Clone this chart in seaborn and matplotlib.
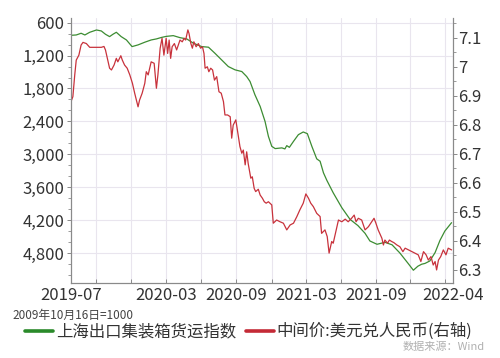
import matplotlib
matplotlib.use("Agg")
import matplotlib.pyplot as plt
import matplotlib.ticker as mticker
from matplotlib.lines import Line2D
import seaborn as sns
import pandas as pd

# ---------------- data ----------------
scfi_dates = [
    "2019-07-01", "2019-07-15", "2019-07-28", "2019-08-07", "2019-08-20", "2019-09-07",
    "2019-09-20", "2019-10-01", "2019-10-12", "2019-10-21", "2019-10-30", "2019-11-12",
    "2019-11-26", "2019-12-11", "2019-12-27", "2020-01-14", "2020-01-31", "2020-02-14",
    "2020-02-27", "2020-03-11", "2020-03-30", "2020-04-17", "2020-05-05", "2020-05-23",
    "2020-06-14", "2020-07-02", "2020-07-19", "2020-08-06", "2020-08-24", "2020-09-11",
    "2020-09-29", "2020-10-12", "2020-10-21", "2020-11-03", "2020-11-17", "2020-11-30",
    "2020-12-09", "2020-12-18", "2020-12-27", "2021-01-14", "2021-01-22", "2021-01-27",
    "2021-02-03", "2021-02-14", "2021-02-27", "2021-03-12", "2021-03-23", "2021-04-04",
    "2021-04-17", "2021-04-26", "2021-05-05", "2021-05-14", "2021-05-31", "2021-06-23",
    "2021-07-15", "2021-08-05", "2021-08-24", "2021-09-06", "2021-09-25", "2021-10-16",
    "2021-11-04", "2021-11-25", "2021-12-17", "2021-12-31", "2022-01-12", "2022-01-22",
    "2022-01-31", "2022-02-13", "2022-02-27", "2022-03-12", "2022-03-25", "2022-04-12",
]
scfi_values = [
    830, 824, 793, 824, 775, 733,
    751, 811, 854, 811, 775, 854,
    915, 1036, 1005, 956, 915, 896,
    870, 850, 836, 873, 896, 975,
    1036, 1047, 1156, 1278, 1400, 1460,
    1491, 1582, 1673, 1914, 2127, 2400,
    2673, 2855, 2896, 2883, 2902, 2842,
    2873, 2764, 2642, 2593, 2624, 2855,
    3083, 3127, 3338, 3475, 3702, 3974,
    4187, 4300, 4441, 4581, 4641, 4605,
    4650, 4800, 4990, 5114, 5041, 5005,
    4990, 4945, 4792, 4570, 4400, 4247,
]

cny_dates = [
    "2019-07-01", "2019-07-06", "2019-07-11", "2019-07-15", "2019-07-22", "2019-07-28",
    "2019-08-02", "2019-08-11", "2019-08-20", "2019-09-02", "2019-09-20", "2019-09-27",
    "2019-10-01", "2019-10-06", "2019-10-12", "2019-10-17", "2019-10-24", "2019-10-30",
    "2019-11-03", "2019-11-11", "2019-11-15", "2019-11-21", "2019-11-28", "2019-12-05",
    "2019-12-12", "2019-12-18", "2019-12-27", "2019-12-31", "2020-01-07", "2020-01-14",
    "2020-01-18", "2020-01-23", "2020-01-27", "2020-01-31", "2020-02-08", "2020-02-14",
    "2020-02-18", "2020-02-24", "2020-02-29", "2020-03-05", "2020-03-11", "2020-03-15",
    "2020-03-19", "2020-03-23", "2020-03-27", "2020-04-02", "2020-04-08", "2020-04-17",
    "2020-04-23", "2020-04-28", "2020-05-02", "2020-05-08", "2020-05-11", "2020-05-16",
    "2020-05-20", "2020-05-24", "2020-05-30", "2020-06-05", "2020-06-11", "2020-06-16",
    "2020-06-20", "2020-06-23", "2020-06-29", "2020-07-03", "2020-07-08", "2020-07-13",
    "2020-07-18", "2020-07-24", "2020-07-30", "2020-08-05", "2020-08-11", "2020-08-15",
    "2020-08-22", "2020-08-29", "2020-09-02", "2020-09-06", "2020-09-13", "2020-09-18",
    "2020-09-24", "2020-09-29", "2020-10-03", "2020-10-08", "2020-10-12", "2020-10-16",
    "2020-10-23", "2020-10-27", "2020-11-01", "2020-11-05", "2020-11-12", "2020-11-17",
    "2020-11-23", "2020-11-28", "2020-12-03", "2020-12-09", "2020-12-18", "2020-12-22",
    "2020-12-31", "2021-01-09", "2021-01-18", "2021-01-27", "2021-02-05", "2021-02-14",
    "2021-02-23", "2021-03-03", "2021-03-12", "2021-03-19", "2021-03-26", "2021-04-01",
    "2021-04-08", "2021-04-17", "2021-04-26", "2021-04-30", "2021-05-09", "2021-05-15",
    "2021-05-20", "2021-05-27", "2021-05-31", "2021-06-08", "2021-06-14", "2021-06-23",
    "2021-07-02", "2021-07-10", "2021-07-19", "2021-07-26", "2021-07-31", "2021-08-06",
    "2021-08-15", "2021-08-24", "2021-09-02", "2021-09-11", "2021-09-17", "2021-09-22",
    "2021-09-28", "2021-10-08", "2021-10-12", "2021-10-16", "2021-10-23", "2021-10-28",
    "2021-11-03", "2021-11-09", "2021-11-17", "2021-11-25", "2021-12-03", "2021-12-09",
    "2021-12-18", "2021-12-27", "2022-01-04", "2022-01-13", "2022-01-20", "2022-01-27",
    "2022-02-03", "2022-02-09", "2022-02-16", "2022-02-22", "2022-02-27", "2022-03-03",
    "2022-03-08", "2022-03-14", "2022-03-21", "2022-03-28", "2022-04-03", "2022-04-12",
]
cny_values = [
    6.880, 6.897, 6.972, 7.023, 7.040, 7.075,
    7.084, 7.080, 7.067, 7.067, 7.067, 7.070,
    7.058, 7.029, 6.995, 6.989, 7.006, 7.029,
    7.017, 7.038, 7.023, 7.006, 6.995, 6.972,
    6.943, 6.909, 6.862, 6.885, 6.909, 6.943,
    6.983, 6.972, 6.995, 7.017, 7.012, 6.926,
    6.972, 7.064, 7.098, 7.040, 7.098, 7.046,
    7.092, 7.029, 7.069, 7.080, 7.058, 7.092,
    7.086, 7.098, 7.092, 7.127, 7.115, 7.080,
    7.064, 7.086, 7.069, 7.080, 7.064, 7.069,
    7.046, 6.995, 7.000, 6.983, 6.995, 6.989,
    6.954, 6.966, 6.914, 6.909, 6.880, 6.834,
    6.834, 6.828, 6.754, 6.799, 6.817, 6.776,
    6.725, 6.702, 6.713, 6.662, 6.707, 6.667,
    6.616, 6.621, 6.581, 6.570, 6.578, 6.558,
    6.547, 6.535, 6.530, 6.535, 6.524, 6.461,
    6.472, 6.466, 6.461, 6.438, 6.455, 6.461,
    6.484, 6.507, 6.530, 6.562, 6.547, 6.530,
    6.518, 6.495, 6.484, 6.426, 6.438, 6.415,
    6.358, 6.398, 6.392, 6.438, 6.472, 6.466,
    6.475, 6.466, 6.478, 6.489, 6.466, 6.478,
    6.472, 6.438, 6.449, 6.466, 6.478, 6.461,
    6.438, 6.409, 6.386, 6.403, 6.392, 6.403,
    6.398, 6.394, 6.386, 6.380, 6.363, 6.375,
    6.369, 6.363, 6.358, 6.352, 6.329, 6.363,
    6.352, 6.334, 6.346, 6.317, 6.329, 6.300,
    6.334, 6.346, 6.369, 6.352, 6.375, 6.369,
]

left_ticks = [600, 1200, 1800, 2400, 3000, 3600, 4200, 4800]
right_ticks = [6.3, 6.4, 6.5, 6.6, 6.7, 6.8, 6.9, 7.0, 7.1]
x_tick_dates = ["2019-07-01", "2019-09-05", "2019-12-08", "2020-03-11", "2020-06-11",
                "2020-09-14", "2020-12-18", "2021-03-19", "2021-06-20", "2021-09-22",
                "2021-12-23", "2022-03-26", "2022-04-15"]
x_tick_labels = ["2019-07", "", "", "2020-03", "", "2020-09", "", "2021-03", "",
                 "2021-09", "", "", "2022-04"]

series_green = "上海出口集装箱货运指数"
series_red = "中间价:美元兑人民币(右轴)"
note_text = "2009年10月16日=1000"
source_text = "数据来源：Wind"

# ---------------- style ----------------
sns.set_theme(style="white")
plt.rcParams["font.family"] = ["Noto Sans CJK SC", "DejaVu Sans"]
plt.rcParams["axes.unicode_minus"] = False

GREEN = "#3c8c32"
RED = "#c8323c"
TXT = "#333333"
SPINE = "#8a8a8a"
GRID = "#e9e5ee"

df_g = pd.DataFrame({"date": pd.to_datetime(scfi_dates), "value": scfi_values})
df_r = pd.DataFrame({"date": pd.to_datetime(cny_dates), "value": cny_values})

fig = plt.figure(figsize=(5.0, 3.58), dpi=100)
ax = fig.add_axes([71 / 500, 1 - 283 / 358, (452.7 - 71) / 500, (283 - 18.3) / 358])
ax2 = ax.twinx()

sns.lineplot(data=df_g, x="date", y="value", ax=ax, color=GREEN, linewidth=0.9, legend=False)
sns.lineplot(data=df_r, x="date", y="value", ax=ax2, color=RED, linewidth=0.9, legend=False)

ax.set_xlim(pd.Timestamp("2019-07-01"), pd.Timestamp("2022-04-15"))
ax.set_ylim(5347, 520)
ax2.set_ylim(6.255, 7.167)

for a in (ax, ax2):
    a.set_xlabel("")
    a.set_ylabel("")

ax.set_yticks(left_ticks)
ax.yaxis.set_major_formatter(mticker.FuncFormatter(lambda v, p: f"{int(v):,}"))
ax.yaxis.set_minor_locator(mticker.MultipleLocator(200))
ax2.set_yticks(right_ticks)
ax2.yaxis.set_major_formatter(mticker.FuncFormatter(lambda v, p: f"{v:g}"))
ax2.yaxis.set_minor_locator(mticker.MultipleLocator(0.05))

ax.set_xticks(pd.to_datetime(x_tick_dates))
ax.set_xticklabels(x_tick_labels)

ax.grid(True, axis="both", color=GRID, linewidth=0.8)
ax.set_axisbelow(True)

for a in (ax, ax2):
    a.spines["top"].set_visible(False)
    for s in ["left", "right", "bottom"]:
        a.spines[s].set_color(SPINE)
        a.spines[s].set_linewidth(0.8)

ax.tick_params(axis="y", which="major", direction="out", length=3, width=0.7,
               color=SPINE, labelsize=12, labelcolor=TXT, pad=2, left=True)
ax.tick_params(axis="y", which="minor", direction="out", length=2, width=0.6,
               color=SPINE, left=True)
ax.tick_params(axis="x", which="major", direction="in", length=3, width=0.7,
               color=SPINE, labelsize=12, labelcolor=TXT, pad=3, bottom=True)
ax2.tick_params(axis="y", which="major", direction="out", length=3, width=0.7,
                color=SPINE, labelsize=12, labelcolor=TXT, pad=1, right=True)
ax2.tick_params(axis="y", which="minor", direction="out", length=2, width=0.6,
                color=SPINE, right=True)

# legend
handles = [Line2D([], [], color="#2a8a2a", linewidth=2.6),
           Line2D([], [], color="#c42a36", linewidth=2.6)]
fig.legend(handles, [series_green, series_red], loc="center left",
           bbox_to_anchor=(25 / 500, 1 - 331.7 / 358), ncol=2, frameon=False,
           fontsize=11.8, handlelength=1.7, handletextpad=0.18, columnspacing=0.6,
           borderpad=0, borderaxespad=0, labelcolor=TXT)

fig.text(12 / 500, 1 - 315 / 358, note_text, fontsize=8.5, color="#444444",
         ha="left", va="center")
fig.text(485 / 500, 1 - 347 / 358, source_text, fontsize=8, color="#b0b0b0",
         ha="right", va="center")

fig.savefig("out.png", dpi=100)
